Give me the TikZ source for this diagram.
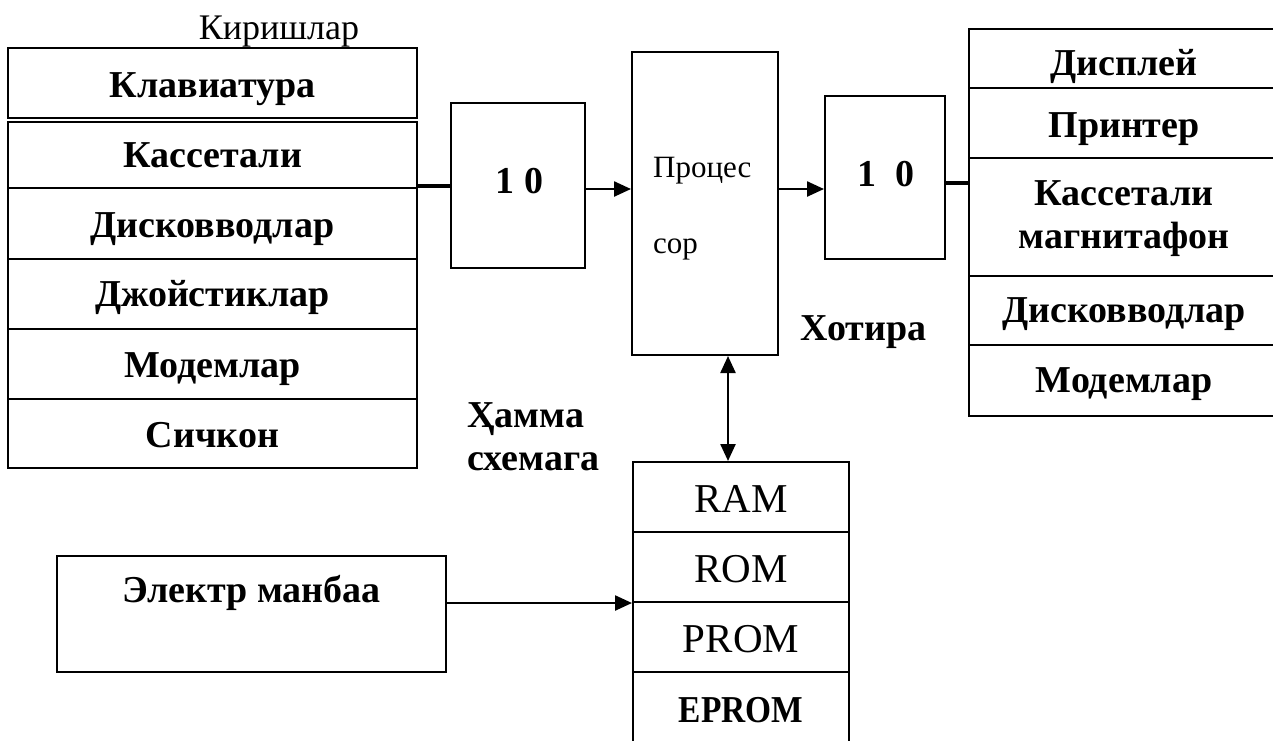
\documentclass[tikz,border=0pt]{standalone}
\usepackage{fontspec}
\setmainfont{Liberation Serif}
\usetikzlibrary{arrows.meta}
\begin{document}
\begin{tikzpicture}[x=1pt,y=-1pt,
  box/.style={draw, line width=2pt, inner sep=0pt, rectangle},
  bl/.style={anchor=base, inner sep=0pt, font=\fontsize{38}{44}\selectfont\bfseries},
  rl/.style={anchor=base, inner sep=0pt, font=\fontsize{41}{46}\selectfont},
  pl/.style={anchor=base west, inner sep=0pt, font=\fontsize{31}{36}\selectfont},
  arr/.style={line width=2.4pt, -{Triangle[length=17pt,width=15pt]}},
  barr/.style={line width=2.4pt, {Triangle[length=17pt,width=15pt]}-{Triangle[length=17pt,width=15pt]}},
  thk/.style={line width=4pt}
]
\clip (0,0) rectangle (1273,740);
% left stack
\node[box, minimum width=409pt, minimum height=70pt] (kl) at (212.5,83) {};
\node[box, minimum width=409pt, minimum height=66pt] (kas) at (212.5,155) {};
\node[box, minimum width=409pt, minimum height=71pt] (dis) at (212.5,223.5) {};
\node[box, minimum width=409pt, minimum height=70pt] (djo) at (212.5,294) {};
\node[box, minimum width=409pt, minimum height=70pt] (mod) at (212.5,364) {};
\node[box, minimum width=409pt, minimum height=69pt] (sich) at (212.5,433.5) {};
% right stack
\node[box, minimum width=310pt, minimum height=59pt] (disp) at (1124,58.5) {};
\node[box, minimum width=310pt, minimum height=70pt] (prn) at (1124,123) {};
\node[box, minimum width=310pt, minimum height=118pt] (kasm) at (1124,217) {};
\node[box, minimum width=310pt, minimum height=69pt] (disr) at (1124,310.5) {};
\node[box, minimum width=310pt, minimum height=71pt] (modr) at (1124,380.5) {};
% IO and processor
\node[box, minimum width=134pt, minimum height=165pt] (io1) at (518,185.5) {};
\node[box, minimum width=146pt, minimum height=303pt] (proc) at (705,203.5) {};
\node[box, minimum width=120pt, minimum height=163pt] (io2) at (885,177.5) {};
% memory
\node[box, minimum width=216pt, minimum height=70pt] (ram) at (741,497) {};
\node[box, minimum width=216pt, minimum height=70pt] (rom) at (741,567) {};
\node[box, minimum width=216pt, minimum height=70pt] (prom) at (741,637) {};
\node[box, minimum width=216pt, minimum height=88pt] (eprom) at (741,716) {};
% power
\node[box, minimum width=389pt, minimum height=116pt] (el) at (251.5,614) {};
% texts
\node[anchor=base, inner sep=0pt, font=\fontsize{36}{40}\selectfont] (tkir) at (279,39) {Киришлар};
\node[bl] (tkl) at (212.5,97) {Клавиатура};
\node[bl] (tkas) at (212.5,167) {Кассетали};
\node[bl] (tdis) at (212.5,237) {Дисковводлар};
\node[bl] (tdjo) at (212.5,306) {Джойстиклар};
\node[bl] (tmod) at (212.5,377) {Модемлар};
\node[bl] (tsich) at (212.5,447) {Сичкон};
\node[bl] (tdisp) at (1124,75) {Дисплей};
\node[bl] (tprn) at (1124,137) {Принтер};
\node[bl] (tkasm) at (1124,205) {Кассетали};
\node[bl] (tmag) at (1124,248) {магнитафон};
\node[bl] (tdisr) at (1124,322) {Дисковводлар};
\node[bl] (tmodr) at (1124,392) {Модемлар};
\node[bl] (tio1) at (519.5,193) {1 0};
\node[bl] (tio2) at (885.5,186) {1\,\,\,0};
\node[pl] (tproc1) at (653,177) {Процес};
\node[pl] (tproc2) at (653,253) {сор};
\node[bl] (thot) at (863.5,340) {Хотира};
\node[bl, anchor=base west] (tham) at (467,427) {Ҳамма};
\node[bl, anchor=base west] (tsxe) at (467,470) {схемага};
\node[rl] (tram) at (741,512) {RAM};
\node[rl] (trom) at (741,582) {ROM};
\node[rl] (tprom) at (741,652) {PROM};
\node[bl] (teprom) at (741,722) {\scalebox{0.88}[1]{EPROM}};
\node[bl] (tel) at (251.5,602) {Электр манбаа};
% connectors
\draw[thk] (kas.east |- io1.west) -- (io1.west);
\draw[arr] (io1.east |- 0,189) -- (proc.west |- 0,189);
\draw[arr] (proc.east |- 0,189) -- (io2.west |- 0,189);
\draw[thk] (io2.east |- 0,183) -- (kasm.west |- 0,183);
\draw[barr] (proc.south -| 728,0) -- (ram.north -| 728,0);
\draw[arr] (el.east |- rom.south west) -- (rom.south west);
\end{tikzpicture}
\end{document}
